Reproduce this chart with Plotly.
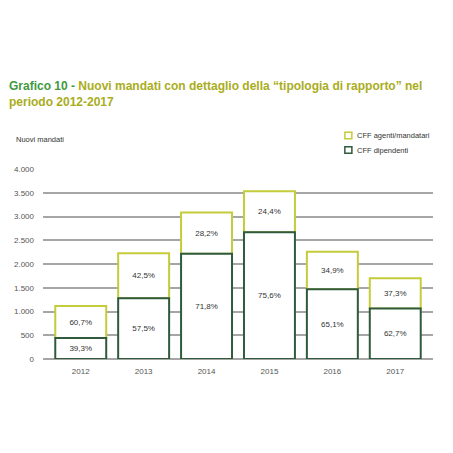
import plotly.graph_objects as go

# Data
anni = ["2012", "2013", "2014", "2015", "2016", "2017"]
cff_dipendenti = [440, 1280, 2215, 2670, 1470, 1065]
cff_agenti = [675, 945, 870, 862, 790, 635]
pct_dipendenti = ["39,3%", "57,5%", "71,8%", "75,6%", "65,1%", "62,7%"]
pct_agenti = ["60,7%", "42,5%", "28,2%", "24,4%", "34,9%", "37,3%"]

col_dip = "#2f5a3c"
col_age = "#c4cc3a"

fig = go.Figure()
# agenti drawn first (sitting on top of dipendenti) so the dark edge stays visible
fig.add_trace(
    go.Bar(
        x=anni,
        y=cff_agenti,
        base=cff_dipendenti,
        name="CFF agenti/mandatari",
        text=pct_agenti,
        textposition="inside",
        insidetextanchor="middle",
        textfont=dict(size=8, color="#333333"),
        marker=dict(color="#ffffff", line=dict(color=col_age, width=2)),
    )
)
fig.add_trace(
    go.Bar(
        x=anni,
        y=cff_dipendenti,
        name="CFF dipendenti",
        text=pct_dipendenti,
        textposition="inside",
        insidetextanchor="middle",
        textfont=dict(size=8, color="#333333"),
        marker=dict(color="#ffffff", line=dict(color=col_dip, width=2)),
    )
)

# two-colour title
fig.add_annotation(
    text="<b><span style='color:#3f9a3f'>Grafico 10 - </span>"
    "Nuovi mandati con dettaglio della \u201ctipologia di rapporto\u201d nel<br>periodo 2012-2017</b>",
    xref="paper", yref="paper", x=-0.093, y=1.485, xanchor="left", yanchor="top",
    showarrow=False, align="left",
    font=dict(size=12, color="#a9ad1c", family="Liberation Sans"),
)
fig.add_annotation(
    text="Nuovi mandati", xref="paper", yref="paper", x=-0.074, y=1.153,
    xanchor="left", yanchor="middle", showarrow=False,
    font=dict(size=7.5, color="#333333"),
)

# small legend drawn by hand
for i, (name, col) in enumerate([("CFF agenti/mandatari", col_age), ("CFF dipendenti", col_dip)]):
    yc = 1.176 - i * 0.076
    fig.add_shape(
        type="rect", xref="paper", yref="paper",
        x0=0.774, x1=0.792, y0=yc - 0.017, y1=yc + 0.017,
        line=dict(color=col, width=1.5), fillcolor="white",
    )
    fig.add_annotation(
        text=name, xref="paper", yref="paper", x=0.8, y=yc,
        xanchor="left", yanchor="middle", showarrow=False,
        font=dict(size=7.5, color="#333333"),
    )

# the page adds an 8px body margin, so margins are trimmed by 8
fig.update_layout(
    width=453,
    height=453,
    barmode="overlay",
    bargap=0.19,
    separators=",.",
    plot_bgcolor="white",
    paper_bgcolor="white",
    font=dict(family="Liberation Sans", size=8, color="#555555"),
    margin=dict(l=35, r=28, t=161, b=102, autoexpand=False),
    showlegend=False,
    xaxis=dict(range=[-0.6, 5.6], showline=False, ticks="", automargin=False,
               ticklabelstandoff=6, tickfont=dict(size=8, color="#555555")),
    yaxis=dict(
        range=[0, 4000], dtick=500, tickformat=",d", showgrid=True, automargin=False,
        gridcolor="#a6a6a6", gridwidth=2, zeroline=True, zerolinecolor="#a6a6a6",
        zerolinewidth=2, ticklabelstandoff=8, tickfont=dict(size=8, color="#555555"),
    ),
)

fig.write_html("out.html")
